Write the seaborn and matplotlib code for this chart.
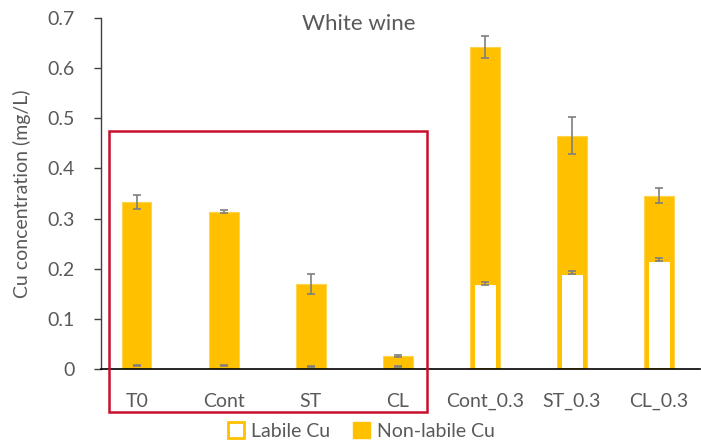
import matplotlib
matplotlib.use("Agg")
import matplotlib.pyplot as plt
from matplotlib.patches import Patch, Rectangle
import seaborn as sns
import pandas as pd

# Cu speciation in white wine (mg/L)
treatments = ["T0", "Cont", "ST", "CL", "Cont_0.3", "ST_0.3", "CL_0.3"]
total_cu = [0.333, 0.314, 0.170, 0.025, 0.643, 0.465, 0.346]
total_err = [0.0145, 0.003, 0.020, 0.002, 0.022, 0.037, 0.0145]
labile_cu = [0.006, 0.006, 0.004, 0.004, 0.171, 0.192, 0.218]
labile_err = [0.001, 0.001, 0.001, 0.001, 0.003, 0.003, 0.003]

orange = "#FFC000"
grey_text = "#595959"

sns.set_theme(style="white")
plt.rcParams["font.family"] = ["Lato", "DejaVu Sans"]

df = pd.DataFrame({"treatment": treatments, "total": total_cu, "labile": labile_cu})

fig = plt.figure(figsize=(7.01, 4.42), dpi=100)
ax = fig.add_axes([101 / 701, 73 / 442, 599 / 701, 351 / 442])

# Non-labile Cu: full stack height in orange
sns.barplot(data=df, x="treatment", y="total", color=orange, saturation=1,
            width=0.34, edgecolor="#FFD34D", linewidth=0.8, ax=ax)
# Labile Cu: hollow bars at the base of each stack
sns.barplot(data=df, x="treatment", y="labile", color="white", saturation=1,
            width=0.28, edgecolor=orange, linewidth=2.2, ax=ax)

xs = range(len(treatments))
ax.errorbar(xs, total_cu, yerr=total_err, fmt="none", ecolor="#7F7F7F",
            elinewidth=1.2, capsize=3, capthick=1.2, zorder=5)
ax.errorbar(xs, labile_cu, yerr=labile_err, fmt="none", ecolor="#7F7F7F",
            elinewidth=1.2, capsize=3, capthick=1.2, zorder=5)

ax.set_xlim(-0.41, 6.47)
ax.set_ylim(0, 0.7)
ax.set_yticks([0, 0.1, 0.2, 0.3, 0.4, 0.5, 0.6, 0.7])
ax.set_yticklabels(["0", "0.1", "0.2", "0.3", "0.4", "0.5", "0.6", "0.7"])
ax.set_xlabel("")
ax.set_ylabel("Cu concentration (mg/L)", fontsize=14, color=grey_text, labelpad=12)
ax.tick_params(axis="y", which="both", left=True, length=5, width=1,
               color="#404040", labelsize=14, labelcolor=grey_text, pad=14)
ax.tick_params(axis="x", bottom=False, labelsize=14, labelcolor=grey_text, pad=11)

for side in ("top", "right"):
    ax.spines[side].set_visible(False)
ax.spines["left"].set_color("#404040")
ax.spines["left"].set_linewidth(1)
ax.spines["bottom"].set_color("black")
ax.spines["bottom"].set_linewidth(1.2)

ax.text(0.43, 1.01, "White wine", transform=ax.transAxes, ha="center", va="top",
        fontsize=16, color=grey_text)

# Frame around the treatments without added Cu
ax.add_patch(Rectangle((-0.32, -0.086), 3.65, 0.561, fill=False,
                       edgecolor="#C8102E", linewidth=1.8, clip_on=False, zorder=6))

handles = [Patch(facecolor="white", edgecolor=orange, linewidth=2, label="Labile Cu"),
           Patch(facecolor=orange, edgecolor=orange, label="Non-labile Cu")]
fig.legend(handles=handles, loc="lower center", bbox_to_anchor=(0.515, -0.035), ncol=2,
           frameon=False, fontsize=14, labelcolor=grey_text, handlelength=0.85,
           handleheight=0.85, handletextpad=0.35, columnspacing=1.2)

fig.savefig("out.png", dpi=100)
